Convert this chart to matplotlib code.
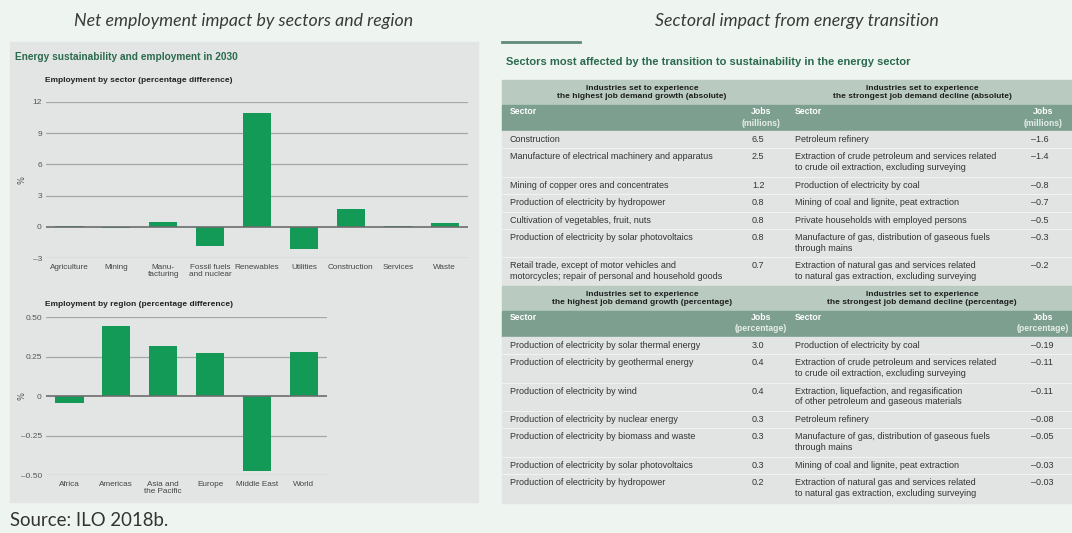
import matplotlib.pyplot as plt
from matplotlib.patches import Rectangle

# ---- left panel data (percentage difference in 2030) ----
sector_names = ['Agriculture', 'Mining', 'Manu-\nfacturing', 'Fossil fuels\nand nuclear',
                'Renewables', 'Utilities', 'Construction', 'Services', 'Waste']
sector_change = [0.08, -0.05, 0.48, -1.8, 10.9, -2.15, 1.68, 0.07, 0.34]
sector_ticks = [-3, 0, 3, 6, 9, 12]
sector_ticklabels = ['\u20133', '0', '3', '6', '9', '12']

region_names = ['Africa', 'Americas', 'Asia and\nthe Pacific', 'Europe', 'Middle East', 'World']
region_change = [-0.045, 0.445, 0.316, 0.272, -0.475, 0.278]
region_ticks = [-0.5, -0.25, 0, 0.25, 0.5]
region_ticklabels = ['\u20130.50', '\u20130.25', '0', '0.25', '0.50']

# ---- right panel data (tables) ----
abs_growth_sectors = [
    'Construction',
    'Manufacture of electrical machinery and apparatus',
    'Mining of copper ores and concentrates',
    'Production of electricity by hydropower',
    'Cultivation of vegetables, fruit, nuts',
    'Production of electricity by solar photovoltaics',
    'Retail trade, except of motor vehicles and\nmotorcycles; repair of personal and household goods',
]
abs_growth_jobs = [6.5, 2.5, 1.2, 0.8, 0.8, 0.8, 0.7]
abs_decline_sectors = [
    'Petroleum refinery',
    'Extraction of crude petroleum and services related\nto crude oil extraction, excluding surveying',
    'Production of electricity by coal',
    'Mining of coal and lignite, peat extraction',
    'Private households with employed persons',
    'Manufacture of gas, distribution of gaseous fuels\nthrough mains',
    'Extraction of natural gas and services related\nto natural gas extraction, excluding surveying',
]
abs_decline_jobs = [-1.6, -1.4, -0.8, -0.7, -0.5, -0.3, -0.2]

pct_growth_sectors = [
    'Production of electricity by solar thermal energy',
    'Production of electricity by geothermal energy',
    'Production of electricity by wind',
    'Production of electricity by nuclear energy',
    'Production of electricity by biomass and waste',
    'Production of electricity by solar photovoltaics',
    'Production of electricity by hydropower',
]
pct_growth_jobs = [3.0, 0.4, 0.4, 0.3, 0.3, 0.3, 0.2]
pct_decline_sectors = [
    'Production of electricity by coal',
    'Extraction of crude petroleum and services related\nto crude oil extraction, excluding surveying',
    'Extraction, liquefaction, and regasification\nof other petroleum and gaseous materials',
    'Petroleum refinery',
    'Manufacture of gas, distribution of gaseous fuels\nthrough mains',
    'Mining of coal and lignite, peat extraction',
    'Extraction of natural gas and services related\nto natural gas extraction, excluding surveying',
]
pct_decline_jobs = [-0.19, -0.11, -0.11, -0.08, -0.05, -0.03, -0.03]

# colours
BG = '#eef5f1'
BOX = '#e3e5e4'
GREEN = '#139a57'
TITLE_GREEN = '#2b6a4f'
GRID = '#a3a7a5'
ZERO = '#6b6e6c'
BAND = '#b9cbc1'
HEAD = '#7c9f90'
ROW = '#e1e4e2'
SEP = '#f1f3f2'
TXT = '#333333'

SANS = 'Liberation Sans'
W, H = 1072, 533

fig = plt.figure(figsize=(W / 100, H / 100), dpi=100, facecolor=BG)
bg = fig.add_axes([0, 0, 1, 1], zorder=0)
bg.set_xlim(0, W)
bg.set_ylim(H, 0)
bg.axis('off')

# headings above both panels
bg.text(244, 21, 'Net employment impact by sectors and region', ha='center', va='center',
        fontsize=12.8, style='italic', family='Lato', color='#3a3a3a')
bg.text(797, 21, 'Sectoral impact from energy transition', ha='center', va='center',
        fontsize=12.8, style='italic', family='Lato', color='#3a3a3a')
bg.text(10, 521, 'Source: ILO 2018b.', ha='left', va='center',
        fontsize=13.4, family='Lato', color='#333333')

# ---- left panel: bar charts ----
bg.add_patch(Rectangle((10, 42), 468, 460, color=BOX, zorder=0))
bg.text(15, 57, 'Energy sustainability and employment in 2030', ha='left', va='center',
        fontsize=7.3, fontweight='bold', family=SANS, color=TITLE_GREEN)
bg.text(45, 80, 'Employment by sector (percentage difference)', ha='left', va='center',
        fontsize=6.05, fontweight='bold', family=SANS, color='#222222')
bg.text(45, 305, 'Employment by region (percentage difference)', ha='left', va='center',
        fontsize=6.05, fontweight='bold', family=SANS, color='#222222')
bg.text(22, 180, '%', rotation=90, ha='center', va='center', fontsize=6, color='#555555')
bg.text(22, 396, '%', rotation=90, ha='center', va='center', fontsize=6, color='#555555')


def bar_panel(top, bottom, names, values, ticks, ticklabels):
    rect = [46 / W, (H - bottom) / H, 46.9 * len(names) / W, (bottom - top) / H]
    ax = fig.add_axes(rect, facecolor='none', zorder=1)
    x = list(range(len(names)))
    ax.bar(x, values, width=0.6, color=GREEN, zorder=3)
    for t in ticks:
        if t == 0:
            ax.axhline(t, color=ZERO, lw=1.2, zorder=4)
        else:
            ax.axhline(t, color=GRID, lw=0.9, zorder=1)
    ax.set_xlim(-0.5, len(names) - 0.5)
    ax.set_ylim(ticks[0], ticks[-1])
    ax.set_yticks(ticks)
    ax.set_yticklabels(ticklabels, fontsize=6, color='#555555', family=SANS)
    ax.set_xticks(x)
    ax.set_xticklabels(names, fontsize=5.9, color='#444444', family=SANS, linespacing=1.0)
    ax.tick_params(length=0, pad=3)
    ax.tick_params(axis='x', pad=4)
    for s in ax.spines.values():
        s.set_visible(False)
    return ax


bar_panel(101.7, 258.3, sector_names, sector_change, sector_ticks, sector_ticklabels)
bar_panel(317.3, 475, region_names, region_change, region_ticks, region_ticklabels)

# ---- right panel: table ----
TX0, TX1, MID = 502, 1072, 782
bg.plot([TX0, 580], [42, 42], color='#5f8a78', lw=2)
bg.text(506, 62, 'Sectors most affected by the transition to sustainability in the energy sector',
        ha='left', va='center', fontsize=8, fontweight='bold', family=SANS, color=TITLE_GREEN)


def dash(v, nd):
    s = f'{abs(v):.{nd}f}'
    return ('\u2013' + s) if v < 0 else s


def table_block(y, head_l, head_r, unit, l_names, l_vals, r_names, r_vals, nd_l, nd_r):
    bg.add_patch(Rectangle((TX0, y), TX1 - TX0, 25, color=BAND))
    bg.text((TX0 + MID) / 2, y + 12.5, head_l, ha='center', va='center', fontsize=6,
            fontweight='bold', family=SANS, color='#1e1e1e', linespacing=1.3)
    bg.text((MID + TX1) / 2 - 5, y + 12.5, head_r, ha='center', va='center', fontsize=6,
            fontweight='bold', family=SANS, color='#1e1e1e', linespacing=1.3)
    y += 25
    bg.add_patch(Rectangle((TX0, y), TX1 - TX0, 26, color=HEAD))
    for sx, jx in ((510, 761), (795, 1043)):
        bg.text(sx, y + 7, 'Sector', ha='left', va='center', fontsize=6.2,
                fontweight='bold', family=SANS, color='white')
        bg.text(jx, y + 7, 'Jobs', ha='center', va='center', fontsize=6.2,
                fontweight='bold', family=SANS, color='white')
        bg.text(jx, y + 18, unit, ha='center', va='center', fontsize=6.2,
                fontweight='bold', family=SANS, color='#e6eeea')
    y += 26
    for ln, lv, rn, rv in zip(l_names, l_vals, r_names, r_vals):
        n = max(ln.count('\n'), rn.count('\n')) + 1
        h = 17.4 + 11 * (n - 1)
        bg.add_patch(Rectangle((TX0, y), TX1 - TX0, h, color=ROW))
        if ln != l_names[0]:
            bg.plot([TX0, TX1], [y, y], color=SEP, lw=0.8)
        kw = dict(ha='left', va='top', fontsize=6.5, family=SANS, color=TXT, linespacing=1.25)
        bg.text(510, y + 4, ln, **kw)
        bg.text(752, y + 4, dash(lv, nd_l), **kw)
        bg.text(795, y + 4, rn, **kw)
        bg.text(1031, y + 4, dash(rv, nd_r), **kw)
        y += h
    return y


y_next = table_block(80,
                     'Industries set to experience\nthe highest job demand growth (absolute)',
                     'Industries set to experience\nthe strongest job demand decline (absolute)',
                     '(millions)', abs_growth_sectors, abs_growth_jobs,
                     abs_decline_sectors, abs_decline_jobs, 1, 1)
table_block(y_next,
            'Industries set to experience\nthe highest job demand growth (percentage)',
            'Industries set to experience\nthe strongest job demand decline (percentage)',
            '(percentage)', pct_growth_sectors, pct_growth_jobs,
            pct_decline_sectors, pct_decline_jobs, 1, 2)

fig.savefig('out.png', dpi=100, facecolor=BG)
